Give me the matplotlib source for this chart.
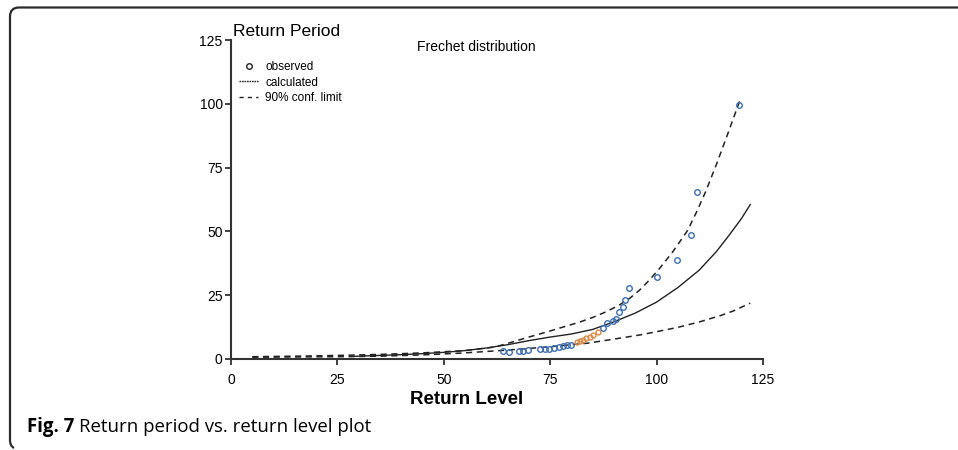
import matplotlib
matplotlib.use('Agg')
import matplotlib.pyplot as plt
from matplotlib.path import Path
from matplotlib.patches import PathPatch
from matplotlib.lines import Line2D
import numpy as np

plt.rcParams['font.family'] = ['Liberation Sans', 'DejaVu Sans']

# ---- data ----
x_obs = [63.9, 65.3, 67.6, 68.5, 69.7, 72.5, 73.7, 74.7, 75.8, 77.0, 77.9, 78.9, 80.0,
         81.2, 82.0, 82.7, 83.5, 84.3, 85.0, 86.2,
         87.3, 88.3, 89.7, 90.5, 91.1, 92.0, 92.5, 93.4, 100.0, 104.9, 108.1, 109.6, 119.3]
y_obs = [3.1, 2.8, 3.1, 3.2, 3.4, 3.9, 4.0, 4.1, 4.3, 4.7, 5.1, 5.5, 5.6,
         6.6, 7.0, 7.4, 8.2, 8.6, 9.4, 10.5,
         12.2, 14.0, 15.0, 15.8, 18.5, 20.5, 23.0, 27.7, 32.0, 38.7, 48.6, 65.5, 99.6]

x_calc = [28, 35, 40, 45, 50, 55, 60, 65, 70, 75, 80, 85, 90, 95, 100, 105, 110,
          114, 117, 120, 122]
y_calc = [1.0, 1.4, 1.7, 2.1, 2.6, 3.3, 4.3, 5.6, 7.2, 8.6, 9.8, 11.6, 14.6, 18.0, 22.3,
          28.0, 34.8, 42.0, 48.4, 55.2, 60.5]

x_upper = [5, 15, 25, 35, 45, 55, 62, 66, 70, 74, 78, 82, 85, 88, 91, 93.7, 96, 98.3,
           100.7, 103.8, 107.3, 109.5, 111.5, 114, 117, 119.5]
y_upper = [0.9, 1.1, 1.4, 1.8, 2.4, 3.3, 4.7, 6.6, 8.6, 10.5, 12.5, 14.5, 16.3, 18.4,
           20.9, 23.8, 27.0, 30.9, 35.5, 42.0, 50.4, 58.0, 65.5, 76.0, 89.5, 101.0]

x_lower = [5, 15, 25, 35, 45, 55, 65, 75, 83.8, 90, 96, 100, 105, 110, 115, 118, 122]
y_lower = [0.7, 0.8, 0.9, 1.1, 1.6, 2.4, 3.5, 4.8, 6.2, 7.8, 9.4, 10.7, 12.4, 14.5,
           17.0, 18.8, 21.9]

xticks = [0, 25, 50, 75, 100, 125]
yticks = [0, 25, 50, 75, 100, 125]

fig = plt.figure(figsize=(9.58, 4.5), dpi=100)

# rounded frame (top + left edge only)
W, H = 958, 450
def fx(px): return px / W
def fy(py): return 1 - py / H
r = 9
verts = [(fx(W), fy(7.5)), (fx(10 + r), fy(7.5)),
         (fx(10), fy(7.5)), (fx(10), fy(7.5 + r)),
         (fx(10), fy(440)),
         (fx(10), fy(446)), (fx(14), fy(448))]
codes = [Path.MOVETO, Path.LINETO, Path.CURVE3, Path.CURVE3, Path.LINETO, Path.CURVE3, Path.CURVE3]
fig.add_artist(PathPatch(Path(verts, codes), transform=fig.transFigure,
                         fill=False, ec='#2b2b2b', lw=1.6))

ax = fig.add_axes([231 / W, 91 / H, 532 / W, 319 / H])

ax.plot(x_lower, y_lower, color='#222222', lw=1.1, ls=(0, (4, 3)))
ax.plot(x_upper, y_upper, color='#222222', lw=1.1, ls=(0, (4, 3)))
ax.plot(x_calc, y_calc, color='#222222', lw=1.0)

obs_x = np.array(x_obs)
obs_y = np.array(y_obs)
mid = (obs_x > 81) & (obs_x < 86.5)
ax.plot(obs_x[~mid], obs_y[~mid], 'o', ms=4, mfc='none', mec='#3d6fb0', mew=1.0)
ax.plot(obs_x[mid], obs_y[mid], 'o', ms=3.5, mfc='none', mec='#d98a45', mew=1.0)

ax.set_xlim(0, 125)
ax.set_ylim(0, 125)
ax.set_xticks(xticks)
ax.set_yticks(yticks)
ax.tick_params(labelsize=10, length=4, width=1.3, color='#333333')
ax.tick_params(axis='y', pad=2)
ax.tick_params(axis='x', pad=6)
for s in ['top', 'right']:
    ax.spines[s].set_visible(False)
for s in ['left', 'bottom']:
    ax.spines[s].set_color('#333333')
    ax.spines[s].set_linewidth(1.5)

handles = [Line2D([], [], ls='none', marker='o', ms=4, mfc='none', mec='#222222', mew=1.0),
           Line2D([], [], color='#222222', lw=1.0, ls=(0, (1.2, 0.6))),
           Line2D([], [], color='#222222', lw=1.0, ls=(0, (3, 3)))]
ax.legend(handles, ['observed', 'calculated', '90% conf. limit'], loc='upper left',
          bbox_to_anchor=(0.0, 0.96), frameon=False, fontsize=8.5, handlelength=1.6,
          handletextpad=0.6, labelspacing=0.3, borderaxespad=0.3)

fig.text(fx(476), fy(47), 'Frechet distribution', fontsize=10, ha='center', va='center')
fig.text(fx(233), fy(32), 'Return Period', fontsize=12.5, ha='left', va='center')
fig.text(fx(467), fy(400), 'Return Level', fontsize=13.5, fontweight='bold',
         ha='center', va='center')

cap1 = fig.text(fx(27), fy(427), 'Fig. 7', fontsize=13.4, fontweight='bold',
                family='Open Sans', ha='left', va='center')
fig.canvas.draw()
bb = cap1.get_window_extent(fig.canvas.get_renderer())
fig.text(bb.x1 / W + 5 / W, fy(427), 'Return period vs. return level plot', fontsize=13.4,
         family='Open Sans', ha='left', va='center')

fig.savefig('out.png', dpi=100)
